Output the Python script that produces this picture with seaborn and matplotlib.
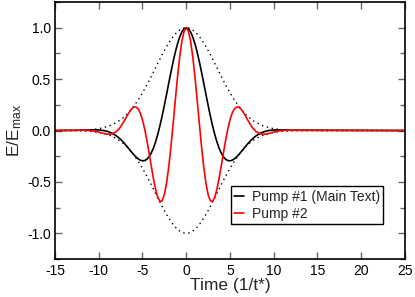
import matplotlib
matplotlib.use("Agg")
import matplotlib.pyplot as plt
import seaborn as sns
from matplotlib.ticker import MultipleLocator
from matplotlib.lines import Line2D

# Time axis (1/t*) and the field values
time = [-15, -12, -11.5, -11, -10.5, -10, -9.5, -9, -8.5,
        -8, -7.75, -7.5, -7.25, -7, -6.75, -6.5, -6.25, -6, -5.75, -5.5, -5.25,
        -5, -4.75, -4.5, -4.25, -4, -3.75, -3.5, -3.25, -3, -2.75, -2.5, -2.25,
        -2, -1.75, -1.5, -1.25, -1, -0.75, -0.5, -0.25, 0,
        0.25, 0.5, 0.75, 1, 1.25, 1.5, 1.75, 2, 2.25, 2.5, 2.75, 3, 3.25, 3.5,
        3.75, 4, 4.25, 4.5, 4.75, 5, 5.25, 5.5, 5.75, 6, 6.25, 6.5, 6.75, 7,
        7.25, 7.5, 7.75, 8, 8.5, 9, 9.5, 10, 10.5, 11, 11.5, 12, 25]

pump1 = [0.0, 0.0030, 0.0043, 0.0056, 0.0062, 0.0052, 0.0010, -0.0083, -0.0248,
         -0.0505, -0.0672, -0.0865, -0.1082, -0.1319, -0.1573, -0.1834, -0.2096,
         -0.2346, -0.2571, -0.2756, -0.2887, -0.2947, -0.2921, -0.2795, -0.2555,
         -0.2194, -0.1707, -0.1092, -0.0355, 0.0494, 0.1438, 0.2456, 0.3521,
         0.4604, 0.5671, 0.6687, 0.7618, 0.8432, 0.9098, 0.9593, 0.9897, 1.0,
         0.9897, 0.9593, 0.9098, 0.8432, 0.7618, 0.6687, 0.5671, 0.4604, 0.3521,
         0.2456, 0.1438, 0.0494, -0.0355, -0.1092, -0.1707, -0.2194, -0.2555,
         -0.2795, -0.2921, -0.2947, -0.2887, -0.2756, -0.2571, -0.2346, -0.2096,
         -0.1834, -0.1573, -0.1319, -0.1082, -0.0865, -0.0672, -0.0505, -0.0248,
         -0.0083, 0.0010, 0.0052, 0.0062, 0.0056, 0.0043, 0.0030, 0.0]

pump2 = [0.0, 0.0027, 0.0024, 0.0000, -0.0058, -0.0154, -0.0270, -0.0357, -0.0335,
         -0.0113, 0.0094, 0.0365, 0.0694, 0.1062, 0.1443, 0.1802, 0.2095, 0.2275,
         0.2295, 0.2113, 0.1700, 0.1044, 0.0153, -0.0938, -0.2166, -0.3447,
         -0.4675, -0.5737, -0.6516, -0.6907, -0.6830, -0.6239, -0.5130, -0.3546,
         -0.1577, 0.0647, 0.2962, 0.5191, 0.7154, 0.8689, 0.9665, 1.0,
         0.9665, 0.8689, 0.7154, 0.5191, 0.2962, 0.0647, -0.1577, -0.3546,
         -0.5130, -0.6239, -0.6830, -0.6907, -0.6516, -0.5737, -0.4675, -0.3447,
         -0.2166, -0.0938, 0.0153, 0.1044, 0.1700, 0.2113, 0.2295, 0.2275,
         0.2095, 0.1802, 0.1443, 0.1062, 0.0694, 0.0365, 0.0094, -0.0113,
         -0.0335, -0.0357, -0.0270, -0.0154, -0.0058, 0.0000, 0.0024, 0.0027, 0.0]

envelope = [0.0, 0.0032, 0.0050, 0.0079, 0.0122, 0.0183, 0.0271, 0.0392, 0.0556,
            0.0773, 0.0905, 0.1054, 0.1222, 0.1409, 0.1616, 0.1845, 0.2096,
            0.2369, 0.2665, 0.2982, 0.3320, 0.3679, 0.4056, 0.4449, 0.4855,
            0.5273, 0.5698, 0.6126, 0.6554, 0.6977, 0.7390, 0.7788, 0.8167,
            0.8521, 0.8847, 0.9139, 0.9394, 0.9608, 0.9778, 0.9900, 0.9975, 1.0,
            0.9975, 0.9900, 0.9778, 0.9608, 0.9394, 0.9139, 0.8847, 0.8521,
            0.8167, 0.7788, 0.7390, 0.6977, 0.6554, 0.6126, 0.5698, 0.5273,
            0.4855, 0.4449, 0.4056, 0.3679, 0.3320, 0.2982, 0.2665, 0.2369,
            0.2096, 0.1845, 0.1616, 0.1409, 0.1222, 0.1054, 0.0905, 0.0773,
            0.0556, 0.0392, 0.0271, 0.0183, 0.0122, 0.0079, 0.0050, 0.0032, 0.0]

labels = ["Pump #1 (Main Text)", "Pump #2"]
xticks = [-15, -10, -5, 0, 5, 10, 15, 20, 25]
yticks = [-1.0, -0.5, 0.0, 0.5, 1.0]

sns.set_style("ticks")
plt.rcParams["font.family"] = ["Liberation Sans", "DejaVu Sans"]
plt.rcParams["mathtext.default"] = "regular"

fig = plt.figure(figsize=(4.15, 2.97), dpi=100)
ax = fig.add_axes([0.1325, 0.128, 0.8434, 0.865])

# dotted Gaussian envelope, then the two pulses
dots = (0, (1, 2.6))
sns.lineplot(x=time, y=envelope, color="black", lw=1.0, linestyle=dots, ax=ax)
sns.lineplot(x=time, y=[-v for v in envelope], color="black", lw=1.0, linestyle=dots, ax=ax)
sns.lineplot(x=time, y=pump1, color="black", lw=1.2, ax=ax)
sns.lineplot(x=time, y=pump2, color="#ff0000", lw=1.2, ax=ax)

ax.set_xlim(-15, 25)
ax.set_ylim(-1.25, 1.25)
ax.set_xticks(xticks)
ax.set_xticklabels([str(v) for v in xticks])
ax.set_yticks(yticks)
ax.set_yticklabels(["%.1f" % v for v in yticks])
ax.yaxis.set_minor_locator(MultipleLocator(0.25))
ax.tick_params(which="both", direction="in", top=True, right=True,
               color="#666666", labelsize=10, labelcolor="black")
ax.tick_params(which="major", length=5, width=1.0)
ax.tick_params(axis="x", pad=3.5)
ax.tick_params(axis="y", pad=3)
ax.tick_params(which="minor", length=3.5, width=1.0)
for sp in ax.spines.values():
    sp.set_color("black")
    sp.set_linewidth(1.2)

ax.set_xlabel("Time (1/t*)", fontsize=12.5, labelpad=0)
ax.set_ylabel("E/E$_{max}$", fontsize=12.5, labelpad=2)

handles = [Line2D([], [], color="black", lw=1.2),
           Line2D([], [], color="#ff0000", lw=1.2)]
leg = ax.legend(handles, labels, loc="lower left", bbox_to_anchor=(0.502, 0.136),
                borderaxespad=0, fontsize=10, handlelength=0.7, handletextpad=0.55,
                labelspacing=0.2, borderpad=0.25, fancybox=False, framealpha=1)
leg.get_frame().set_edgecolor("black")
leg.get_frame().set_linewidth(1.0)

fig.savefig("out.png", dpi=100)
